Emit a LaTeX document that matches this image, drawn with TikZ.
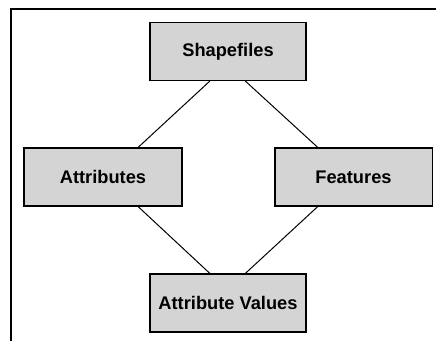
\documentclass[tikz,border=0pt]{standalone}
\usepackage{fontspec}
\setmainfont{Liberation Sans}
\usepackage{tikz}
\usetikzlibrary{positioning, calc}
\definecolor{boxgray}{RGB}{212,212,212}

\begin{document}
\begin{tikzpicture}[x=0.75pt, y=-0.75pt,
  box/.style={draw, line width=1pt, fill=boxgray, minimum width=117pt,
              minimum height=43.3pt, inner sep=0pt, align=center,
              font=\fontsize{13.7}{16}\selectfont\bfseries},
  link/.style={line width=0.75pt},
  frame/.style={line width=1pt}]
  \useasboundingbox (0,0) rectangle (436,341);
  % page frame (top and left edge)
  \coordinate (fl) at (11,341);
  \coordinate (fc) at (11,9);
  \coordinate (fr) at (436,9);
  \draw[frame] (fl) -- (fc) -- (fr);
  % boxes
  \node[box] (sf) at (228,51.5) {Shapefiles};
  \node[box, minimum width=118.5pt] (at) at (103,177) {Attributes};
  \node[box, minimum width=118pt] (fe) at (353.5,177) {Features};
  \node[box] (av) at (228,303) {Attribute Values};
  % links
  \draw[link] ($(sf.south west)!0.385!(sf.south east)$) -- ($(at.north west)!0.72!(at.north east)$);
  \draw[link] ($(sf.south west)!0.61!(sf.south east)$) -- ($(fe.north west)!0.275!(fe.north east)$);
  \draw[link] ($(at.south west)!0.72!(at.south east)$) -- ($(av.north west)!0.385!(av.north east)$);
  \draw[link] ($(fe.south west)!0.275!(fe.south east)$) -- ($(av.north west)!0.61!(av.north east)$);
\end{tikzpicture}
\end{document}
